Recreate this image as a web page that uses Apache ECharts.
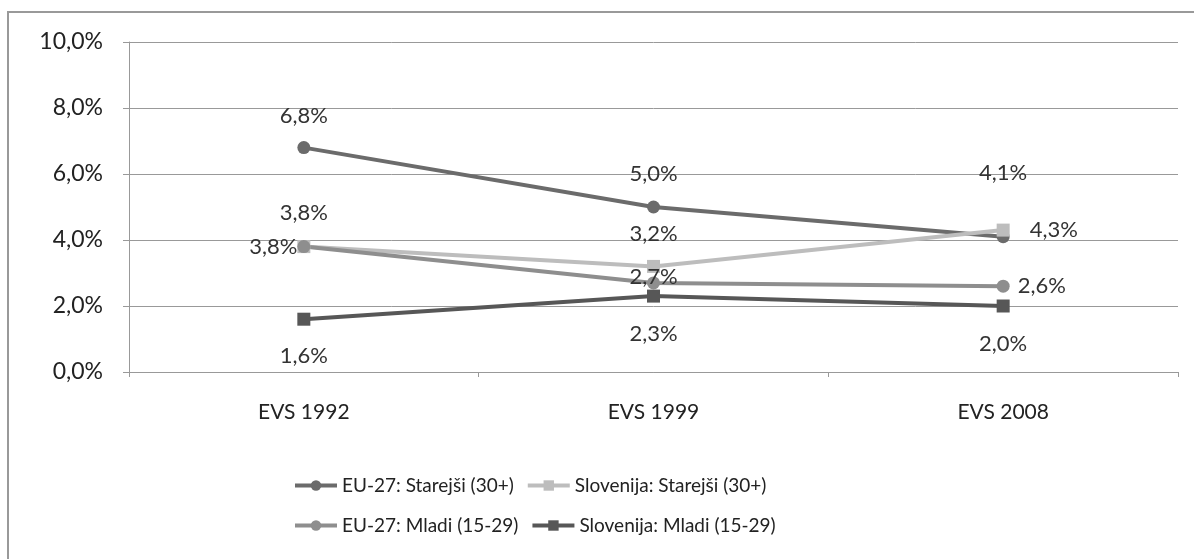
<!DOCTYPE html>
<html><head><meta charset="utf-8">
<script src="https://cdn.jsdelivr.net/npm/echarts@6/dist/echarts.min.js"></script>
<style>html,body{margin:0;padding:0;background:#fff}#c{width:1194px;height:559px}</style>
</head><body><div id="c"></div>
<script>
const categories = ['EVS 1992', 'EVS 1999', 'EVS 2008'];
const yTicks = [0, 2, 4, 6, 8, 10];
const seriesNames = ['EU-27: Starejši (30+)', 'Slovenija: Starejši (30+)', 'EU-27: Mladi (15-29)', 'Slovenija: Mladi (15-29)'];
const euOld = [6.8, 5.0, 4.1];
const sloOld = [3.8, 3.2, 4.3];
const euYoung = [3.8, 2.7, 2.6];
const sloYoung = [1.6, 2.3, 2.0];

const FONT = 'Lato';
const fmt = v => v.toFixed(1).replace('.', ',') + '%';
const lbl = {show: true, fontFamily: FONT, fontSize: 22, color: '#333', formatter: p => fmt(p.value)};

function mk(name, data, color, symbol, labels) {
  return {
    name, type: 'line', data: data.map((v, i) => ({value: v, label: labels[i]})),
    symbol, symbolSize: 13,
    lineStyle: {color, width: 4}, itemStyle: {color},
    label: lbl, emphasis: {disabled: true}, animation: false
  };
}

const legendCommon = {left: 288, itemWidth: 42, itemHeight: 13, itemGap: 12,
  lineStyle: {width: 4},
  textStyle: {fontFamily: FONT, fontSize: 19, color: '#222'}};

const chart = echarts.init(document.getElementById('c'));
chart.setOption({
  animation: false,
  graphic: [{type: 'rect', shape: {x: 8, y: 12, width: 1200, height: 560}, style: {fill: 'none', stroke: '#999', lineWidth: 2}, silent: true}],
  grid: {left: 129, right: 16, top: 42, bottom: 187},
  xAxis: {
    type: 'category', data: categories, boundaryGap: true,
    axisLine: {lineStyle: {color: '#999'}},
    axisTick: {show: true, length: 5, lineStyle: {color: '#999'}},
    axisLabel: {fontFamily: FONT, fontSize: 21, color: '#222', margin: 30}
  },
  yAxis: {
    type: 'value', min: 0, max: 10, interval: 2,
    axisLine: {show: true, lineStyle: {color: '#999'}},
    axisTick: {show: true, length: 6, inside: false, lineStyle: {color: '#999'}},
    splitLine: {lineStyle: {color: '#999'}},
    axisLabel: {fontFamily: FONT, fontSize: 23, color: '#222', margin: 26, formatter: v => fmt(v)}
  },
  legend: [
    Object.assign({data: [seriesNames[0], seriesNames[1]], top: 471}, legendCommon),
    Object.assign({data: [seriesNames[2], seriesNames[3]], top: 511}, legendCommon)
  ],
  series: [
    mk(seriesNames[0], euOld, '#6b6b6b', 'circle', [
      {position: 'top', distance: 14}, {position: 'top', distance: 16}, {position: 'top', distance: 46}]),
    mk(seriesNames[1], sloOld, '#bdbdbd', 'rect', [
      {position: 'top', distance: 16}, {position: 'top', distance: 15}, {position: 'right', distance: 20}]),
    mk(seriesNames[2], euYoung, '#8e8e8e', 'circle', [
      {position: 'left', distance: 0}, {position: 'top', distance: -12}, {position: 'right', distance: 8}]),
    mk(seriesNames[3], sloYoung, '#575757', 'rect', [
      {position: 'bottom', distance: 19}, {position: 'bottom', distance: 20}, {position: 'bottom', distance: 20}])
  ]
});
</script></body></html>
